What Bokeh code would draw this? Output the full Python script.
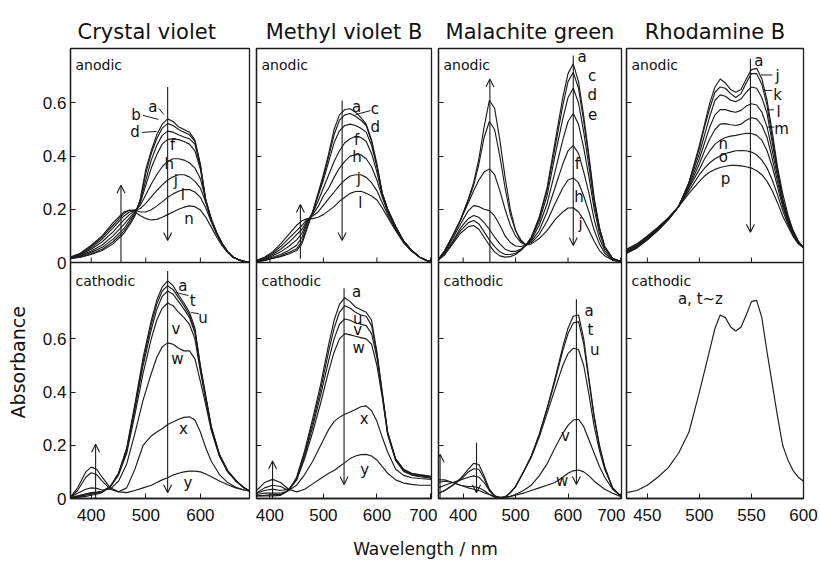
import numpy as np
from bokeh.plotting import figure
from bokeh.models import (Range1d, FixedTicker, CustomJSTickFormatter, Span, Arrow, OpenHead)
from bokeh.layouts import row, column
from bokeh.core.properties import value
from bokeh.embed import file_html
from bokeh.resources import INLINE

# ---------------- spectra (absorbance vs wavelength / nm) ----------------
# Crystal violet
cv_an_wl = [362, 380, 400, 420, 440, 460, 470, 480, 490, 500, 510, 520, 530, 540, 550,
            560, 570, 580, 590, 600, 610, 620, 630, 640, 650, 660, 670, 680, 690]
cv_an = {
    "a": [.015, .02, .03, .045, .07, .11, .14, .175, .24, .35, .42, .48, .52, .54, .53,
          .51, .50, .49, .46, .37, .23, .16, .11, .07, .04, .02, .01, .004, 0],
    "b": [.015, .02, .033, .05, .078, .118, .148, .18, .235, .335, .41, .465, .505, .522, .515,
          .50, .49, .48, .455, .365, .23, .16, .11, .07, .04, .02, .01, .004, 0],
    "d": [.015, .024, .038, .057, .088, .128, .158, .185, .23, .31, .385, .44, .478, .494, .49,
          .48, .472, .465, .445, .36, .23, .16, .11, .07, .04, .02, .01, .004, 0],
    "f": [.016, .026, .043, .066, .10, .143, .168, .19, .225, .29, .355, .405, .445, .463, .465,
          .462, .455, .445, .42, .35, .235, .16, .11, .07, .04, .02, .01, .004, 0],
    "h": [.018, .029, .05, .078, .115, .16, .18, .195, .215, .255, .295, .33, .36, .38, .39,
          .39, .385, .375, .355, .315, .235, .165, .112, .07, .04, .02, .01, .004, 0],
    "j": [.019, .031, .055, .088, .13, .175, .19, .197, .203, .222, .247, .27, .292, .31, .322,
          .33, .33, .322, .305, .28, .225, .162, .11, .07, .04, .02, .01, .004, 0],
    "l": [.02, .033, .06, .095, .14, .185, .196, .197, .19, .19, .198, .212, .228, .245, .258,
          .268, .274, .274, .265, .245, .205, .152, .105, .068, .04, .02, .01, .004, 0],
    "n": [.021, .035, .065, .10, .15, .19, .197, .19, .176, .165, .16, .162, .17, .18, .19,
          .20, .208, .213, .21, .197, .17, .133, .095, .062, .037, .02, .01, .004, 0],
}
cv_ca_wl = [362, 375, 390, 400, 410, 420, 435, 450, 465, 480, 495, 510, 520, 530, 540,
            550, 560, 570, 580, 590, 600, 610, 620, 635, 650, 665, 680, 690]
cv_ca = {
    "a": [0, .004, .008, .012, .016, .022, .045, .095, .19, .355, .53, .67, .745, .795, .818,
          .80, .765, .735, .70, .64, .50, .385, .27, .165, .105, .068, .04, .028],
    "t": [.002, .006, .012, .016, .02, .025, .046, .094, .185, .345, .515, .655, .73, .78, .80,
          .785, .755, .725, .69, .63, .495, .38, .268, .164, .104, .068, .04, .028],
    "u": [.003, .008, .015, .02, .022, .026, .045, .092, .18, .335, .50, .635, .71, .76, .78,
          .768, .74, .712, .68, .622, .49, .377, .266, .163, .103, .067, .04, .028],
    "v": [.004, .01, .018, .022, .024, .027, .044, .088, .17, .315, .47, .60, .67, .715, .735,
          .725, .70, .68, .655, .60, .478, .37, .262, .161, .102, .066, .04, .028],
    "w": [.005, .02, .035, .04, .038, .032, .035, .065, .13, .245, .37, .47, .53, .57, .585,
          .58, .565, .555, .555, .525, .44, .35, .255, .158, .10, .065, .04, .028],
    "x": [.005, .03, .08, .097, .09, .065, .035, .025, .04, .11, .20, .235, .25, .262, .278,
          .288, .298, .305, .307, .295, .25, .19, .14, .09, .06, .042, .032, .028],
    "y": [.005, .04, .10, .118, .11, .08, .04, .025, .022, .03, .04, .05, .06, .07, .078,
          .088, .095, .10, .103, .103, .10, .092, .082, .066, .052, .04, .032, .028],
}

# Methyl violet B
mv_an_wl = [375, 390, 405, 420, 435, 450, 460, 470, 480, 490, 500, 510, 520, 530, 540,
            550, 560, 570, 580, 590, 600, 610, 620, 635, 650, 665, 680, 695, 702]
mv_an = {
    "a": [.003, .008, .015, .022, .032, .045, .07, .13, .19, .26, .33, .41, .50, .555, .575,
          .578, .565, .545, .52, .46, .37, .26, .20, .135, .08, .045, .02, .006, .003],
    "c": [.003, .008, .016, .025, .037, .052, .08, .14, .19, .255, .32, .40, .48, .535, .555,
          .56, .55, .535, .515, .455, .365, .26, .20, .135, .08, .045, .02, .006, .003],
    "d": [.004, .01, .02, .03, .045, .065, .095, .15, .19, .25, .31, .38, .45, .495, .515,
          .52, .515, .505, .49, .44, .36, .26, .20, .135, .08, .045, .02, .006, .003],
    "f": [.005, .012, .025, .04, .06, .085, .11, .155, .185, .23, .28, .33, .38, .42, .45,
          .465, .474, .47, .455, .41, .34, .255, .195, .133, .08, .045, .02, .006, .003],
    "h": [.006, .015, .03, .05, .075, .105, .125, .16, .18, .21, .25, .28, .32, .355, .38,
          .40, .405, .405, .39, .36, .31, .245, .19, .13, .078, .044, .02, .006, .003],
    "j": [.007, .018, .035, .06, .09, .12, .14, .163, .175, .19, .215, .24, .265, .29, .31,
          .325, .33, .33, .32, .30, .27, .225, .18, .125, .076, .043, .02, .006, .003],
    "l": [.008, .02, .04, .07, .105, .14, .157, .165, .165, .17, .18, .195, .21, .23, .245,
          .26, .267, .268, .26, .25, .235, .205, .17, .12, .074, .042, .02, .006, .003],
}
mv_ca_wl = [375, 390, 405, 420, 435, 450, 465, 480, 495, 510, 520, 530, 540, 550, 560,
            570, 580, 590, 600, 610, 620, 635, 650, 665, 680, 702]
mv_ca = {
    "a": [.01, .01, .01, .012, .03, .08, .18, .30, .43, .58, .67, .73, .755, .74, .72,
          .71, .70, .67, .55, .40, .25, .15, .11, .095, .09, .083],
    "u": [.01, .012, .015, .015, .03, .075, .17, .285, .41, .555, .64, .70, .725, .715, .70,
          .69, .685, .65, .545, .395, .248, .148, .108, .093, .088, .081],
    "v": [.015, .02, .02, .02, .03, .07, .16, .27, .39, .52, .60, .655, .675, .67, .66,
          .655, .65, .62, .53, .39, .245, .146, .105, .09, .085, .079],
    "w": [.02, .03, .035, .03, .035, .07, .15, .25, .36, .48, .55, .60, .62, .615, .61,
          .605, .60, .58, .50, .38, .24, .143, .102, .088, .082, .076],
    "x": [.02, .04, .05, .045, .03, .05, .09, .14, .20, .26, .29, .305, .317, .325, .335,
          .345, .348, .33, .29, .23, .175, .11, .087, .078, .075, .072],
    "y": [.03, .06, .072, .06, .035, .025, .035, .055, .075, .095, .105, .12, .135, .15, .16,
          .165, .166, .16, .145, .12, .095, .07, .058, .053, .05, .05],
}

# Malachite green
mg_an_wl = [353, 365, 380, 395, 410, 420, 430, 440, 450, 460, 470, 480, 490, 500, 510, 520,
            530, 545, 560, 575, 590, 600, 610, 620, 630, 640, 650, 660, 670, 685, 700]
mg_an = {
    "a": [.01, .03, .07, .11, .135, .139, .125, .095, .065, .04, .025, .02, .022, .03, .045, .065,
          .095, .17, .28, .45, .62, .71, .747, .68, .55, .40, .24, .13, .06, .015, .005],
    "c": [.01, .03, .075, .12, .15, .158, .145, .115, .085, .06, .04, .03, .03, .035, .048, .066,
          .095, .165, .27, .43, .59, .68, .715, .655, .53, .39, .235, .13, .06, .015, .005],
    "d": [.01, .035, .08, .13, .165, .177, .17, .15, .125, .095, .07, .05, .042, .042, .05, .066,
          .09, .155, .25, .40, .54, .62, .655, .60, .49, .36, .22, .125, .058, .015, .005],
    "e": [.012, .04, .09, .145, .195, .214, .21, .20, .195, .175, .14, .10, .075, .062, .06, .066,
          .085, .14, .22, .34, .46, .53, .56, .52, .43, .32, .20, .11, .055, .015, .005],
    "f": [.012, .045, .10, .16, .225, .27, .31, .34, .352, .33, .27, .20, .14, .10, .075, .066,
          .08, .12, .19, .28, .37, .42, .44, .41, .34, .26, .16, .09, .045, .012, .004],
    "h": [.012, .045, .10, .16, .235, .29, .37, .47, .53, .50, .40, .28, .18, .12, .085, .066,
          .075, .105, .155, .22, .28, .31, .318, .30, .25, .19, .12, .07, .035, .01, .003],
    "j": [.012, .045, .10, .16, .24, .30, .39, .51, .61, .58, .46, .32, .20, .12, .08, .066,
          .07, .09, .12, .16, .19, .205, .206, .19, .16, .12, .08, .045, .025, .008, .003],
}
mg_ca_wl = [353, 365, 380, 395, 410, 420, 430, 440, 450, 460, 470, 480, 490, 500, 515,
            530, 545, 560, 575, 590, 600, 610, 620, 630, 640, 650, 660, 670, 685, 700]
mg_ca = {
    "a": [.02, .03, .05, .075, .11, .132, .128, .085, .035, .01, .002, .005, .022, .045, .10,
          .16, .24, .34, .45, .57, .64, .685, .69, .60, .45, .31, .20, .12, .04, .01],
    "t": [.02, .03, .05, .07, .10, .112, .11, .075, .03, .01, .002, .005, .022, .045, .10,
          .16, .24, .335, .44, .555, .62, .66, .665, .58, .44, .30, .195, .118, .04, .01],
    "u": [.04, .05, .06, .07, .08, .085, .08, .06, .03, .01, .003, .006, .022, .045, .10,
          .155, .23, .32, .41, .50, .545, .565, .56, .50, .39, .27, .18, .11, .04, .01],
    "v": [.06, .065, .06, .05, .045, .045, .04, .03, .015, .005, .002, .003, .008, .015, .03,
          .05, .085, .13, .19, .245, .275, .295, .298, .27, .22, .17, .12, .08, .035, .01],
    "w": [.07, .07, .06, .05, .04, .035, .03, .022, .015, .008, .005, .005, .008, .012, .02,
          .03, .04, .05, .06, .08, .095, .104, .107, .10, .085, .065, .05, .035, .02, .008],
}

# Rhodamine B
rb_wl = [430, 440, 450, 460, 470, 480, 490, 500, 505, 510, 515, 520, 525, 530,
         535, 540, 545, 550, 555, 560, 565, 570, 575, 580, 585, 590, 595, 600]
rb_an = {
    "a": [.035, .055, .085, .12, .16, .21, .30, .44, .52, .60, .66, .69, .675, .65,
          .64, .65, .69, .725, .73, .69, .61, .49, .36, .26, .18, .12, .08, .055],
    "j": [.035, .055, .085, .12, .16, .21, .30, .43, .51, .58, .64, .66, .655, .635,
          .62, .635, .675, .71, .71, .67, .59, .47, .35, .24, .17, .12, .08, .055],
    "k": [.04, .058, .088, .122, .16, .21, .30, .41, .48, .55, .61, .63, .625, .61,
          .605, .615, .64, .66, .655, .62, .56, .45, .34, .235, .165, .115, .078, .055],
    "l": [.04, .06, .09, .124, .162, .21, .29, .39, .45, .51, .555, .575, .575, .568,
          .565, .572, .588, .597, .592, .565, .51, .42, .325, .23, .162, .113, .077, .055],
    "m": [.045, .062, .092, .126, .164, .21, .285, .37, .42, .465, .50, .52, .522, .518,
          .515, .52, .535, .544, .54, .515, .47, .39, .305, .22, .158, .11, .076, .055],
    "n": [.045, .065, .095, .128, .165, .21, .28, .35, .39, .42, .445, .46, .47, .475,
          .478, .482, .486, .485, .478, .46, .42, .36, .285, .21, .152, .107, .074, .055],
    "o": [.05, .068, .098, .13, .166, .21, .27, .33, .355, .375, .39, .40, .41, .415,
          .42, .421, .42, .415, .405, .385, .355, .31, .255, .195, .145, .103, .072, .055],
    "p": [.05, .07, .10, .132, .168, .21, .26, .305, .325, .34, .35, .357, .362, .365,
          .365, .363, .36, .355, .345, .33, .305, .27, .225, .175, .135, .098, .07, .055],
}
rb_ca = {
    "a": [.022, .03, .05, .08, .115, .17, .25, .40, .48, .56, .64, .69, .68, .645,
          .63, .645, .69, .74, .745, .68, .55, .43, .31, .20, .145, .105, .08, .065],
}

# curve letters: (text, wavelength, absorbance)
cv_an_tags = [("a", 513, .586), ("b", 482, .553), ("d", 480, .489), ("f", 549, .44),
              ("h", 543, .372), ("j", 555, .308), ("l", 568, .252), ("n", 579, .165)]
cv_ca_tags = [("a", 568, .80), ("t", 586, .742), ("u", 605, .68), ("v", 555, .636),
              ("w", 558, .523), ("x", 569, .26), ("y", 577, .06)]
mv_an_tags = [("a", 562, .586), ("c", 596, .578), ("d", 597, .509), ("f", 562, .459),
              ("h", 563, .396), ("j", 566, .315), ("l", 569, .223)]
mv_ca_tags = [("a", 562, .777), ("u", 564, .674), ("v", 564, .632), ("w", 566, .565),
              ("x", 576, .298), ("y", 577, .106)]
mg_an_tags = [("a", 627, .772), ("c", 646, .703), ("d", 646, .628), ("e", 647, .559),
              ("f", 618, .371), ("h", 621, .245), ("j", 624, .145)]
mg_ca_tags = [("a", 640, .705), ("t", 643, .632), ("u", 651, .557), ("v", 595, .235),
              ("w", 589, .066)]
rb_an_tags = [("a", 557, .759), ("j", 575, .703), ("k", 575, .628), ("l", 576, .565),
              ("m", 579, .503), ("n", 523, .446), ("o", 523, .396), ("p", 525, .315)]
rb_ca_tags = [("a, t~z", 501, .749)]

# short leader lines from letters to curves: (x0, y0, x1, y1)
cv_an_leads = [(495, .553, 523, .538), (493, .489, 520, .493), (524, .579, 533, .556)]
cv_ca_leads = [(556, .774, 578, .763), (583, .699, 597, .695)]
mv_an_leads = [(560, .556, 588, .571)]
rb_an_leads = [(559, .705, 570, .705), (561, .647, 570, .647), (565, .574, 571.5, .574),
               (565, .509, 572, .509)]

# direction arrows: (wavelength, from absorbance, to absorbance)
cv_an_arrows = [(540, .66, .083), (454.5, 0.0, .29)]
cv_ca_arrows = [(540, .855, .022), (408, 0.0, .204)]
mv_an_arrows = [(535, .609, .083), (457, .014, .218)]
mv_ca_arrows = [(538.6, .79, .053), (405, 0.0, .141)]
mg_an_arrows = [(451, 0.0, .69), (610, .778, .064)]
mg_ca_arrows = [(616, .749, .053), (425.5, .21, .022), (356, 0.0, .166)]
rb_an_arrows = [(549, .766, .114)]
rb_ca_arrows = []

# ---------------- layout constants ----------------
Y_PX = 266.0                 # pixels per absorbance unit
FIG_H = 535
FRAME_TOP, FRAME_BOT = 48, 498
Y_END = (FRAME_BOT - FRAME_TOP) / Y_PX
BASE = (FRAME_BOT - 262) / Y_PX     # zero line of the anodic (upper) panel
INK = "#1c1c1c"
TXT = "#111111"
FONT = "DejaVu Sans"
NUM_FONT = "Liberation Sans"


def make_column(title, xr, xticks, width, bl, br, an_wl, an, ca_wl, ca,
                an_tags, ca_tags, an_arrows, ca_arrows, leads_an=(), leads_ca=(),
                first=False, title_align="center", title_offset=0):
    p = figure(width=width, height=FIG_H, x_range=Range1d(*xr), y_range=Range1d(0, Y_END),
               output_backend="svg", toolbar_location=None,
               min_border_left=bl, min_border_right=br,
               min_border_top=FRAME_TOP, min_border_bottom=FIG_H - FRAME_BOT)
    p.xgrid.visible = False
    p.ygrid.visible = False
    p.outline_line_color = INK
    p.outline_line_width = 1.3
    p.background_fill_color = "white"
    p.border_fill_color = "white"

    p.title.text = title
    p.title.text_font = FONT
    p.title.text_font_size = "21px"
    p.title.text_font_style = "normal"
    p.title.text_color = TXT
    p.title.align = title_align
    p.title.offset = title_offset

    px_per_nm = (width - bl - br) / (xr[1] - xr[0])

    xa = p.xaxis[0]
    xa.ticker = FixedTicker(ticks=xticks)
    xa.major_tick_in = 5
    xa.major_tick_out = 0
    xa.minor_tick_in = 0
    xa.minor_tick_out = 0
    xa.axis_line_color = INK
    xa.axis_line_width = 1.3
    xa.major_tick_line_color = INK
    xa.major_label_standoff = 10
    xa.major_label_text_font = NUM_FONT
    xa.major_label_text_font_size = "17px"
    xa.major_label_text_color = TXT

    ya = p.yaxis[0]
    ya.ticker = FixedTicker(ticks=[0, .2, .4, .6, BASE, BASE + .2, BASE + .4, BASE + .6])
    ya.major_tick_in = 5
    ya.major_tick_out = 0
    ya.minor_tick_in = 0
    ya.minor_tick_out = 0
    ya.axis_line_color = INK
    ya.axis_line_width = 1.3
    ya.major_tick_line_color = INK
    if first:
        ya.formatter = CustomJSTickFormatter(args=dict(base=BASE), code="""
            const v = tick >= base - 1e-6 ? tick - base : tick;
            const r = Math.round(v * 10) / 10;
            return r == 0 ? "0" : r.toFixed(1);
        """)
        ya.major_label_standoff = 4
        ya.major_label_text_font = NUM_FONT
        ya.major_label_text_font_size = "17px"
        ya.major_label_text_color = TXT
    else:
        ya.formatter = CustomJSTickFormatter(code='return "";')
        ya.major_label_standoff = 0
        ya.major_label_text_font_size = "0px"

    # boundary between the anodic and cathodic panels
    p.add_layout(Span(location=BASE, dimension="width", line_color=INK, line_width=1.3))
    # inward x ticks on the anodic panel's baseline
    n = len(xticks)
    p.segment(x0=xticks, y0=[BASE] * n, x1=xticks, y1=[BASE + 5 / Y_PX] * n,
              line_color=INK, line_width=1)

    for vals in an.values():
        p.line(an_wl, np.asarray(vals) + BASE, line_color=INK, line_width=1.15)
    for vals in ca.values():
        p.line(ca_wl, vals, line_color=INK, line_width=1.15)

    for (t, x, y) in an_tags:
        p.text(x=[x], y=[y + BASE], text=[t], text_font=value(FONT), text_font_size="15px",
               text_align="center", text_baseline="middle", text_color=TXT)
    for (t, x, y) in ca_tags:
        p.text(x=[x], y=[y], text=[t], text_font=value(FONT), text_font_size="15px",
               text_align="center", text_baseline="middle", text_color=TXT)
    for (x0, y0, x1, y1) in leads_an:
        p.segment(x0=[x0], y0=[y0 + BASE], x1=[x1], y1=[y1 + BASE], line_color=INK, line_width=1)
    for (x0, y0, x1, y1) in leads_ca:
        p.segment(x0=[x0], y0=[y0], x1=[x1], y1=[y1], line_color=INK, line_width=1)

    for (x, y0, y1) in an_arrows:
        p.add_layout(Arrow(end=OpenHead(size=8, line_width=1.1, line_color=INK),
                           x_start=x, y_start=y0 + BASE, x_end=x, y_end=y1 + BASE,
                           line_color=INK, line_width=1.1))
    for (x, y0, y1) in ca_arrows:
        p.add_layout(Arrow(end=OpenHead(size=8, line_width=1.1, line_color=INK),
                           x_start=x, y_start=y0, x_end=x, y_end=y1,
                           line_color=INK, line_width=1.1))

    # panel captions
    x_cap = xr[0] + 5 / px_per_nm
    p.text(x=[x_cap], y=[BASE + .744], text=["anodic"], text_font=value(FONT),
           text_font_size="14px", text_align="left", text_baseline="middle", text_color=TXT)
    p.text(x=[x_cap], y=[.816], text=["cathodic"], text_font=value(FONT),
           text_font_size="14px", text_align="left", text_baseline="middle", text_color=TXT)
    return p


def caption_strip(width, height, text, x, y, size, angle=0.0):
    s = figure(width=width, height=height, x_range=Range1d(0, width), y_range=Range1d(0, height),
               output_backend="svg", toolbar_location=None, min_border=0,
               x_axis_type=None, y_axis_type=None)
    s.xgrid.visible = False
    s.ygrid.visible = False
    s.outline_line_color = None
    s.text(x=[x], y=[y], text=[text], angle=angle, text_font=value(FONT),
           text_font_size=size, text_align="center", text_baseline="middle", text_color=TXT)
    return s


# shared y caption at the far left
lead = caption_strip(30, FIG_H, "Absorbance", 17, FIG_H - 373, "19px", angle=np.pi / 2)

f1 = make_column("Crystal violet", (362, 690), [400, 500, 600], 223, 40, 4,
                 cv_an_wl, cv_an, cv_ca_wl, cv_ca, cv_an_tags, cv_ca_tags,
                 cv_an_arrows, cv_ca_arrows, cv_an_leads, cv_ca_leads,
                 first=True, title_align="left", title_offset=7)
f2 = make_column("Methyl violet B", (375, 702), [400, 500, 600, 700], 184, 3, 6,
                 mv_an_wl, mv_an, mv_ca_wl, mv_ca, mv_an_tags, mv_ca_tags,
                 mv_an_arrows, mv_ca_arrows, mv_an_leads, ())
f3 = make_column("Malachite green", (353, 702), [400, 500, 600, 700], 188, 1, 4,
                 mg_an_wl, mg_an, mg_ca_wl, mg_ca, mg_an_tags, mg_ca_tags,
                 mg_an_arrows, mg_ca_arrows)
f4 = make_column("Rhodamine B", (430, 600), [450, 500, 550, 600], 195, 1, 17,
                 rb_wl, rb_an, rb_wl, rb_ca, rb_an_tags, rb_ca_tags,
                 rb_an_arrows, rb_ca_arrows, rb_an_leads, ())

# shared x caption along the bottom
foot = caption_strip(820, 561 - FIG_H, "Wavelength / nm", 425, 13, "17px")

layout = column(row(lead, f1, f2, f3, f4), foot)
open("out.html", "w").write(file_html(layout, INLINE))
